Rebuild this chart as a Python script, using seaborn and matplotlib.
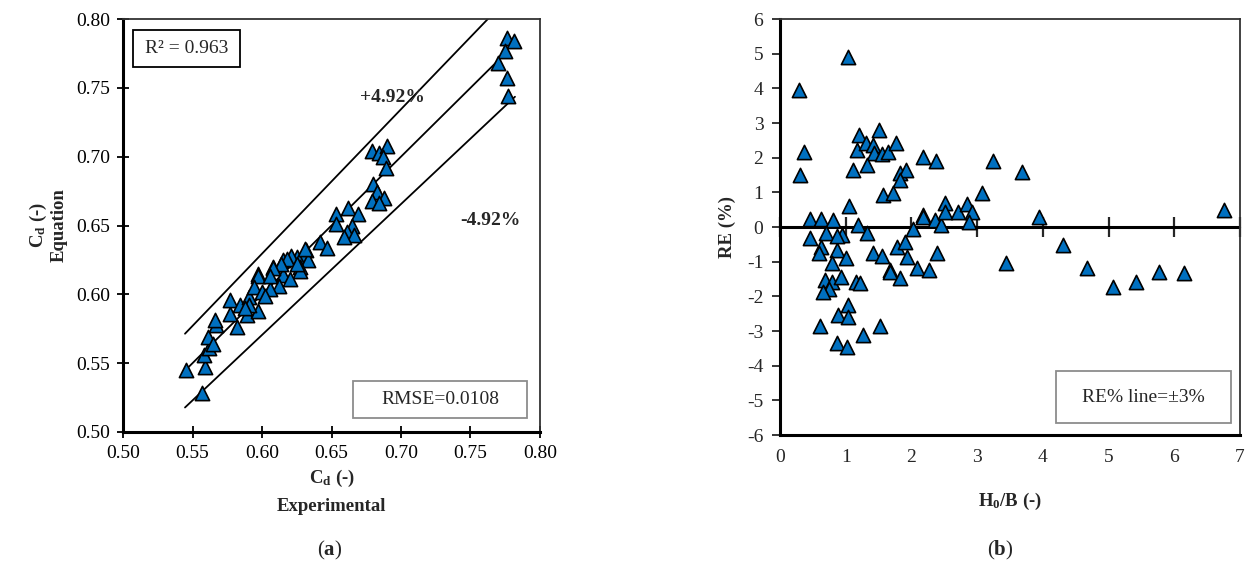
import numpy as np
import pandas as pd
import matplotlib
matplotlib.use("Agg")
import matplotlib.pyplot as plt
from matplotlib.patches import Rectangle
import seaborn as sns

# ---------------- data ----------------
cd_experimental = [0.776, 0.781, 0.775, 0.770, 0.776, 0.777,
                   0.679, 0.684, 0.690, 0.687, 0.689, 0.680, 0.683, 0.688, 0.679, 0.684,
                   0.653, 0.662, 0.669, 0.653, 0.665, 0.661, 0.666, 0.659, 0.642, 0.647,
                   0.632, 0.630, 0.625, 0.615, 0.608, 0.597, 0.633, 0.627, 0.615, 0.621,
                   0.618, 0.631, 0.627, 0.612, 0.614, 0.608, 0.620, 0.625,
                   0.545, 0.557, 0.559, 0.558, 0.562, 0.561, 0.565, 0.567, 0.566, 0.577,
                   0.577, 0.582, 0.584, 0.589, 0.597, 0.591, 0.597, 0.594, 0.600, 0.606,
                   0.606, 0.602, 0.591, 0.588]
cd_equation = [0.786, 0.784, 0.777, 0.768, 0.757, 0.744,
               0.704, 0.703, 0.708, 0.700, 0.692, 0.680, 0.674, 0.670, 0.668, 0.666,
               0.658, 0.663, 0.658, 0.651, 0.650, 0.645, 0.643, 0.642, 0.638, 0.634,
               0.632, 0.629, 0.627, 0.625, 0.620, 0.615, 0.625, 0.620, 0.614, 0.628,
               0.626, 0.633, 0.617, 0.606, 0.622, 0.619, 0.611, 0.622,
               0.545, 0.528, 0.547, 0.556, 0.561, 0.569, 0.564, 0.578, 0.581, 0.586,
               0.596, 0.576, 0.592, 0.585, 0.588, 0.598, 0.613, 0.605, 0.602, 0.604,
               0.613, 0.599, 0.592, 0.590]

h0_b = [0.29, 0.31, 0.37, 0.45, 0.62, 0.81, 1.05, 0.45, 0.70, 0.63, 0.60, 0.87, 0.94, 0.87,
        1.18, 1.33, 1.00, 0.79, 1.42, 1.55, 1.67, 1.67, 1.82, 1.78, 1.90, 2.03, 1.94,
        2.09, 2.26, 2.39, 2.17, 2.17, 2.36, 2.45, 2.51, 2.51, 2.71, 2.84, 2.92, 2.88,
        0.68, 0.79, 0.93, 0.75, 0.66, 1.16, 1.21, 1.04, 0.89, 1.04, 0.61, 1.52, 1.27,
        0.87, 1.02, 3.44, 4.30, 4.67, 5.07, 5.42, 5.77, 6.15, 3.94, 6.75,
        1.04, 1.20, 1.17, 1.31, 1.42, 1.43, 1.51, 1.55, 1.64, 1.77, 1.11, 1.33, 1.83,
        1.92, 1.83, 1.56, 1.72, 2.17, 2.37, 3.24, 3.68, 3.07]
re_percent = [3.95, 1.50, 2.17, 0.22, 0.22, 0.21, 0.60, -0.33, -0.18, -0.58, -0.75, -0.66, -0.23, -0.27,
              0.06, -0.18, -0.90, -1.04, -0.76, -0.84, -1.24, -1.30, -1.48, -0.57, -0.42, -0.07, -0.87,
              -1.19, -1.24, -0.74, 0.35, 0.30, 0.20, 0.06, 0.68, 0.44, 0.44, 0.66, 0.44, 0.15,
              -1.53, -1.58, -1.45, -1.80, -1.87, -1.58, -1.62, -2.25, -2.54, -2.59, -2.85, -2.85, -3.11,
              -3.35, -3.46, -1.05, -0.52, -1.19, -1.72, -1.58, -1.29, -1.32, 0.29, 0.49,
              4.90, 2.65, 2.22, 2.41, 2.36, 2.13, 2.80, 2.10, 2.17, 2.41, 1.64, 1.79, 1.55,
              1.64, 1.35, 0.92, 0.97, 2.01, 1.90, 1.90, 1.59, 0.98]

band_pct = 4.92
line_x = [0.5446, 0.775]
band_x = [0.5446, 0.782]

x_ticks_a = [0.50, 0.55, 0.60, 0.65, 0.70, 0.75, 0.80]
y_ticks_a = [0.50, 0.55, 0.60, 0.65, 0.70, 0.75, 0.80]
x_ticks_b = [0, 1, 2, 3, 4, 5, 6, 7]
y_ticks_b = [-6, -5, -4, -3, -2, -1, 0, 1, 2, 3, 4, 5, 6]

# ---------------- style ----------------
sns.set_style("ticks")
plt.rcParams['font.family'] = ['Liberation Serif', 'DejaVu Serif']
plt.rcParams['mathtext.fontset'] = 'custom'
plt.rcParams['mathtext.rm'] = 'Liberation Serif'
plt.rcParams['mathtext.bf'] = 'Liberation Serif:bold'
plt.rcParams['mathtext.it'] = 'Liberation Serif:italic'

BLUE = "#0070C0"
TICK_FS = 14
LAB_FS = 13.5

fig = plt.figure(figsize=(12.47, 5.65), dpi=100)
W, H = 1247, 565
def axes_rect(x0, y0, x1, y1):
    return [x0 / W, 1 - y1 / H, (x1 - x0) / W, (y1 - y0) / H]

ax1 = fig.add_axes(axes_rect(123, 19, 540, 432))
ax2 = fig.add_axes(axes_rect(780, 19, 1240, 435))

# ---------------- panel (a) ----------------
df_a = pd.DataFrame({"exp": cd_experimental, "eq": cd_equation})
lx = np.array(line_x)
bx = np.array(band_x)
ax1.plot(bx, bx * (1 + band_pct / 100), color="black", lw=1.3, zorder=1)
ax1.plot(bx, bx * (1 - band_pct / 100), color="black", lw=1.3, zorder=1)
ax1.plot(lx, lx, color="black", lw=1.3, zorder=1)
sns.scatterplot(data=df_a, x="exp", y="eq", ax=ax1, marker="^", s=105,
                color=BLUE, edgecolor="black", linewidth=1.2, zorder=3, legend=False)
ax1.set_xlim(0.50, 0.80)
ax1.set_ylim(0.50, 0.80)
ax1.set_xticks(x_ticks_a)
ax1.set_yticks(y_ticks_a)
ax1.set_xticklabels([f"{v:.2f}" for v in x_ticks_a])
ax1.set_yticklabels([f"{v:.2f}" for v in y_ticks_a])
ax1.tick_params(direction="inout", length=9, width=1.3, labelsize=TICK_FS, pad=5, colors="black")
ax1.set_xlabel(r"C$_\mathbf{d}$ (-)" + "\nExperimental", fontsize=LAB_FS, fontweight="bold",
               linespacing=1.7, labelpad=4)
ax1.set_ylabel(r"C$_\mathbf{d}$ (-)" + "\nEquation", fontsize=LAB_FS, fontweight="bold",
               linespacing=1.1, labelpad=6)
for side in ["left", "bottom"]:
    ax1.spines[side].set_linewidth(2.2)
    ax1.spines[side].set_color("black")
for side in ["top", "right"]:
    ax1.spines[side].set_linewidth(1.3)
    ax1.spines[side].set_color("#333333")
    ax1.spines[side].set_visible(True)

ax1.add_patch(Rectangle((0.024, 0.884), 0.257, 0.089, transform=ax1.transAxes,
                        fill=False, edgecolor="black", lw=1.3, zorder=4))
ax1.text(0.152, 0.929, "R² = 0.963", transform=ax1.transAxes, ha="center", va="center",
         fontsize=14, zorder=5)
ax1.add_patch(Rectangle((0.552, 0.034), 0.417, 0.089, transform=ax1.transAxes,
                        facecolor="white", edgecolor="#8c8c8c", lw=1.3, zorder=4))
ax1.text(0.760, 0.079, "RMSE=0.0108", transform=ax1.transAxes, ha="center", va="center",
         fontsize=14, zorder=5)
ax1.text(0.645, 0.811, "+4.92%", transform=ax1.transAxes, ha="center", va="center",
         fontsize=14, fontweight="bold")
ax1.text(0.880, 0.513, "-4.92%", transform=ax1.transAxes, ha="center", va="center",
         fontsize=14, fontweight="bold")

# ---------------- panel (b) ----------------
df_b = pd.DataFrame({"h0b": h0_b, "re": re_percent})
ax2.axhline(0, color="black", lw=2.2, zorder=2)
sns.scatterplot(data=df_b, x="h0b", y="re", ax=ax2, marker="^", s=105,
                color=BLUE, edgecolor="black", linewidth=1.2, zorder=3, legend=False)
ax2.set_xlim(0, 7)
ax2.set_ylim(-6, 6)
ax2.set_xticks(x_ticks_b)
ax2.set_yticks(y_ticks_b)
ax2.set_xticklabels([str(v) for v in x_ticks_b])
ax2.set_yticklabels([str(v) for v in y_ticks_b])
ax2.tick_params(axis="x", length=0, labelsize=TICK_FS, pad=10)
ax2.tick_params(axis="y", direction="out", length=6, width=1.3, labelsize=TICK_FS, pad=6)
sec = ax2.secondary_xaxis(0.5)
sec.set_xticks(x_ticks_b)
sec.set_xticklabels([])
sec.tick_params(direction="inout", length=14, width=1.6)
sec.spines["bottom"].set_linewidth(2.2)
sec.spines["bottom"].set_color("black")
ax2.set_xlabel(r"H$_\mathbf{0}$/B (-)", fontsize=LAB_FS, fontweight="bold", labelpad=18)
ax2.set_ylabel("RE (%)", fontsize=LAB_FS, fontweight="bold", labelpad=8)
for side in ["left", "bottom"]:
    ax2.spines[side].set_linewidth(2.2)
    ax2.spines[side].set_color("black")
for side in ["top", "right"]:
    ax2.spines[side].set_linewidth(1.3)
    ax2.spines[side].set_color("#333333")
ax2.add_patch(Rectangle((0.600, 0.029), 0.380, 0.125, transform=ax2.transAxes,
                        facecolor="white", edgecolor="#8c8c8c", lw=1.3, zorder=4))
ax2.text(0.789, 0.091, "RE% line=±3%", transform=ax2.transAxes, ha="center", va="center",
         fontsize=14, zorder=5)

# ---------------- captions ----------------
fig.text(330 / W, 1 - 550 / H, r"($\mathbf{a}$)", ha="center", va="center", fontsize=15)
fig.text(1000 / W, 1 - 550 / H, r"($\mathbf{b}$)", ha="center", va="center", fontsize=15)

fig.savefig("out.png", dpi=100)
